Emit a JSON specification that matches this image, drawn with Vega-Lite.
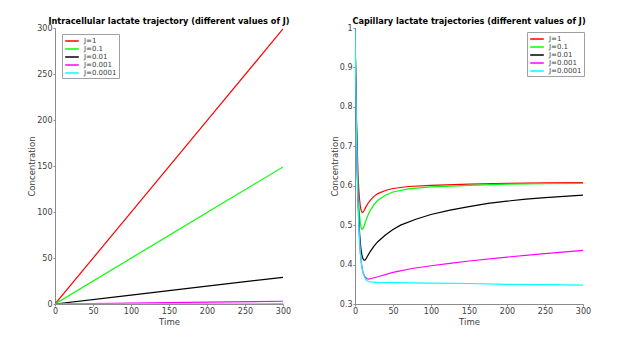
{
  "$schema": "https://vega.github.io/schema/vega-lite/v6.json",
  "autosize": {"type": "pad"},
  "padding": {"left": 27, "top": 16, "right": 5, "bottom": 5},
  "bounds": "flush",
  "spacing": 72,
  "background": "white",
  "config": {
    "view": {"stroke": null},
    "font": "DejaVu Sans",
    "axis": {
      "grid": false,
      "labelFont": "DejaVu Sans",
      "labelFontSize": 8,
      "labelFlush": false,
      "labelOverlap": false,
      "titleFont": "DejaVu Sans",
      "titleFontSize": 8.5,
      "titleFontWeight": "normal",
      "domainColor": "#8c8c8c",
      "tickColor": "#8c8c8c",
      "labelColor": "#404040",
      "titleColor": "#404040",
      "tickSize": 2,
      "labelPadding": 1
    },
    "title": {"font": "DejaVu Sans", "fontSize": 8.2, "fontWeight": "bold", "color": "black", "offset": -2, "anchor": "middle", "frame": "group"},
    "legend": {
      "title": null,
      "symbolType": "M-1.7,0H1.7",
      "symbolSize": 64,
      "symbolStrokeWidth": 1.5,
      "symbolOffset": 3,
      "labelFont": "DejaVu Sans",
      "labelFontSize": 7,
      "labelColor": "#404040",
      "rowPadding": 0,
      "padding": 2,
      "strokeColor": "#a0a0a0",
      "fillColor": "white",
      "labelOffset": 7
    }
  },
  "datasets": {
    "intra": [
      {"J": "J=1", "t": 0, "c": 0}, {"J": "J=1", "t": 100, "c": 99.6}, {"J": "J=1", "t": 200, "c": 199.2}, {"J": "J=1", "t": 300, "c": 299},
      {"J": "J=0.1", "t": 0, "c": 0}, {"J": "J=0.1", "t": 100, "c": 49.7}, {"J": "J=0.1", "t": 200, "c": 99.4}, {"J": "J=0.1", "t": 300, "c": 149},
      {"J": "J=0.01", "t": 0, "c": 0}, {"J": "J=0.01", "t": 100, "c": 9.7}, {"J": "J=0.01", "t": 200, "c": 19.4}, {"J": "J=0.01", "t": 300, "c": 29},
      {"J": "J=0.001", "t": 0, "c": 0}, {"J": "J=0.001", "t": 100, "c": 1.0}, {"J": "J=0.001", "t": 200, "c": 2.0}, {"J": "J=0.001", "t": 300, "c": 3.0},
      {"J": "J=0.0001", "t": 0, "c": 0}, {"J": "J=0.0001", "t": 100, "c": 0.1}, {"J": "J=0.0001", "t": 200, "c": 0.2}, {"J": "J=0.0001", "t": 300, "c": 0.3}
    ],
    "cap": [
      {"J": "J=1", "t": 0, "c": 1}, {"J": "J=1", "t": 1, "c": 0.88}, {"J": "J=1", "t": 2, "c": 0.77}, {"J": "J=1", "t": 3, "c": 0.69}, {"J": "J=1", "t": 4, "c": 0.63}, {"J": "J=1", "t": 5, "c": 0.59}, {"J": "J=1", "t": 6, "c": 0.565}, {"J": "J=1", "t": 7, "c": 0.548}, {"J": "J=1", "t": 8, "c": 0.538}, {"J": "J=1", "t": 9, "c": 0.533}, {"J": "J=1", "t": 10, "c": 0.532}, {"J": "J=1", "t": 11, "c": 0.534}, {"J": "J=1", "t": 12, "c": 0.537}, {"J": "J=1", "t": 14, "c": 0.545}, {"J": "J=1", "t": 17, "c": 0.555}, {"J": "J=1", "t": 20, "c": 0.563}, {"J": "J=1", "t": 25, "c": 0.573}, {"J": "J=1", "t": 30, "c": 0.58}, {"J": "J=1", "t": 40, "c": 0.588}, {"J": "J=1", "t": 50, "c": 0.593}, {"J": "J=1", "t": 70, "c": 0.598}, {"J": "J=1", "t": 100, "c": 0.601}, {"J": "J=1", "t": 150, "c": 0.604}, {"J": "J=1", "t": 200, "c": 0.606}, {"J": "J=1", "t": 250, "c": 0.607}, {"J": "J=1", "t": 300, "c": 0.608},
      {"J": "J=0.1", "t": 0, "c": 1}, {"J": "J=0.1", "t": 1, "c": 0.87}, {"J": "J=0.1", "t": 2, "c": 0.75}, {"J": "J=0.1", "t": 3, "c": 0.66}, {"J": "J=0.1", "t": 4, "c": 0.6}, {"J": "J=0.1", "t": 5, "c": 0.555}, {"J": "J=0.1", "t": 6, "c": 0.525}, {"J": "J=0.1", "t": 7, "c": 0.505}, {"J": "J=0.1", "t": 8, "c": 0.494}, {"J": "J=0.1", "t": 9, "c": 0.49}, {"J": "J=0.1", "t": 10, "c": 0.49}, {"J": "J=0.1", "t": 11, "c": 0.493}, {"J": "J=0.1", "t": 12, "c": 0.498}, {"J": "J=0.1", "t": 14, "c": 0.51}, {"J": "J=0.1", "t": 17, "c": 0.525}, {"J": "J=0.1", "t": 20, "c": 0.537}, {"J": "J=0.1", "t": 25, "c": 0.552}, {"J": "J=0.1", "t": 30, "c": 0.563}, {"J": "J=0.1", "t": 40, "c": 0.576}, {"J": "J=0.1", "t": 50, "c": 0.584}, {"J": "J=0.1", "t": 70, "c": 0.592}, {"J": "J=0.1", "t": 100, "c": 0.597}, {"J": "J=0.1", "t": 150, "c": 0.601}, {"J": "J=0.1", "t": 200, "c": 0.604}, {"J": "J=0.1", "t": 250, "c": 0.605}, {"J": "J=0.1", "t": 300, "c": 0.606},
      {"J": "J=0.01", "t": 0, "c": 1}, {"J": "J=0.01", "t": 1, "c": 0.86}, {"J": "J=0.01", "t": 2, "c": 0.74}, {"J": "J=0.01", "t": 3, "c": 0.64}, {"J": "J=0.01", "t": 4, "c": 0.57}, {"J": "J=0.01", "t": 5, "c": 0.52}, {"J": "J=0.01", "t": 6, "c": 0.48}, {"J": "J=0.01", "t": 7, "c": 0.455}, {"J": "J=0.01", "t": 8, "c": 0.437}, {"J": "J=0.01", "t": 9, "c": 0.425}, {"J": "J=0.01", "t": 10, "c": 0.417}, {"J": "J=0.01", "t": 11, "c": 0.413}, {"J": "J=0.01", "t": 12, "c": 0.411}, {"J": "J=0.01", "t": 13, "c": 0.411}, {"J": "J=0.01", "t": 14, "c": 0.413}, {"J": "J=0.01", "t": 16, "c": 0.42}, {"J": "J=0.01", "t": 20, "c": 0.433}, {"J": "J=0.01", "t": 25, "c": 0.447}, {"J": "J=0.01", "t": 30, "c": 0.458}, {"J": "J=0.01", "t": 40, "c": 0.475}, {"J": "J=0.01", "t": 50, "c": 0.489}, {"J": "J=0.01", "t": 60, "c": 0.5}, {"J": "J=0.01", "t": 80, "c": 0.515}, {"J": "J=0.01", "t": 100, "c": 0.527}, {"J": "J=0.01", "t": 125, "c": 0.538}, {"J": "J=0.01", "t": 150, "c": 0.547}, {"J": "J=0.01", "t": 175, "c": 0.555}, {"J": "J=0.01", "t": 200, "c": 0.561}, {"J": "J=0.01", "t": 225, "c": 0.566}, {"J": "J=0.01", "t": 250, "c": 0.57}, {"J": "J=0.01", "t": 275, "c": 0.573}, {"J": "J=0.01", "t": 300, "c": 0.576},
      {"J": "J=0.001", "t": 0, "c": 1}, {"J": "J=0.001", "t": 1, "c": 0.86}, {"J": "J=0.001", "t": 2, "c": 0.73}, {"J": "J=0.001", "t": 3, "c": 0.63}, {"J": "J=0.001", "t": 4, "c": 0.56}, {"J": "J=0.001", "t": 5, "c": 0.5}, {"J": "J=0.001", "t": 6, "c": 0.46}, {"J": "J=0.001", "t": 7, "c": 0.43}, {"J": "J=0.001", "t": 8, "c": 0.41}, {"J": "J=0.001", "t": 9, "c": 0.395}, {"J": "J=0.001", "t": 10, "c": 0.385}, {"J": "J=0.001", "t": 12, "c": 0.373}, {"J": "J=0.001", "t": 14, "c": 0.367}, {"J": "J=0.001", "t": 16, "c": 0.364}, {"J": "J=0.001", "t": 18, "c": 0.363}, {"J": "J=0.001", "t": 20, "c": 0.364}, {"J": "J=0.001", "t": 30, "c": 0.369}, {"J": "J=0.001", "t": 50, "c": 0.38}, {"J": "J=0.001", "t": 75, "c": 0.39}, {"J": "J=0.001", "t": 100, "c": 0.397}, {"J": "J=0.001", "t": 125, "c": 0.403}, {"J": "J=0.001", "t": 150, "c": 0.409}, {"J": "J=0.001", "t": 200, "c": 0.419}, {"J": "J=0.001", "t": 250, "c": 0.428}, {"J": "J=0.001", "t": 300, "c": 0.436},
      {"J": "J=0.0001", "t": 0, "c": 1}, {"J": "J=0.0001", "t": 1, "c": 0.86}, {"J": "J=0.0001", "t": 2, "c": 0.73}, {"J": "J=0.0001", "t": 3, "c": 0.63}, {"J": "J=0.0001", "t": 4, "c": 0.56}, {"J": "J=0.0001", "t": 5, "c": 0.5}, {"J": "J=0.0001", "t": 6, "c": 0.46}, {"J": "J=0.0001", "t": 7, "c": 0.43}, {"J": "J=0.0001", "t": 8, "c": 0.41}, {"J": "J=0.0001", "t": 9, "c": 0.395}, {"J": "J=0.0001", "t": 10, "c": 0.384}, {"J": "J=0.0001", "t": 12, "c": 0.371}, {"J": "J=0.0001", "t": 14, "c": 0.363}, {"J": "J=0.0001", "t": 16, "c": 0.359}, {"J": "J=0.0001", "t": 18, "c": 0.357}, {"J": "J=0.0001", "t": 20, "c": 0.356}, {"J": "J=0.0001", "t": 30, "c": 0.355}, {"J": "J=0.0001", "t": 50, "c": 0.354}, {"J": "J=0.0001", "t": 100, "c": 0.353}, {"J": "J=0.0001", "t": 150, "c": 0.352}, {"J": "J=0.0001", "t": 200, "c": 0.35}, {"J": "J=0.0001", "t": 250, "c": 0.349}, {"J": "J=0.0001", "t": 300, "c": 0.348}
    ]
  },
  "resolve": {"scale": {"color": "independent"}, "legend": {"color": "independent"}},
  "hconcat": [
    {
      "width": 228,
      "height": 276,
      "title": "Intracellular lactate trajectory (different values of J)",
      "data": {"name": "intra"},
      "mark": {"type": "line", "strokeWidth": 1.2, "clip": true},
      "encoding": {
        "x": {"field": "t", "type": "quantitative", "title": "Time", "scale": {"domain": [0, 300], "nice": false}, "axis": {"values": [0, 50, 100, 150, 200, 250, 300], "titlePadding": 2}},
        "y": {"field": "c", "type": "quantitative", "title": "Concentration", "scale": {"domain": [0, 300], "nice": false}, "axis": {"values": [0, 50, 100, 150, 200, 250, 300], "titlePadding": 0}},
        "color": {
          "field": "J", "type": "nominal",
          "scale": {"domain": ["J=1", "J=0.1", "J=0.01", "J=0.001", "J=0.0001"], "range": ["#ff0000", "#00ff00", "#000000", "#ff00ff", "#00ffff"]},
          "legend": {"orient": "none", "legendX": 7, "legendY": 6}
        }
      }
    },
    {
      "width": 228,
      "height": 276,
      "title": "Capillary lactate trajectories (different values of J)",
      "data": {"name": "cap"},
      "mark": {"type": "line", "strokeWidth": 1.2, "clip": true},
      "encoding": {
        "x": {"field": "t", "type": "quantitative", "title": "Time", "scale": {"domain": [0, 300], "nice": false}, "axis": {"values": [0, 50, 100, 150, 200, 250, 300], "titlePadding": 2}},
        "y": {"field": "c", "type": "quantitative", "title": "Concentration", "scale": {"domain": [0.3, 1], "nice": false, "zero": false}, "axis": {"values": [0.3, 0.4, 0.5, 0.6, 0.7, 0.8, 0.9, 1], "format": "~g", "titlePadding": 0}},
        "color": {
          "field": "J", "type": "nominal",
          "scale": {"domain": ["J=1", "J=0.1", "J=0.01", "J=0.001", "J=0.0001"], "range": ["#ff0000", "#00ff00", "#000000", "#ff00ff", "#00ffff"]},
          "legend": {"orient": "none", "legendX": 172, "legendY": 4}
        }
      }
    }
  ]
}
